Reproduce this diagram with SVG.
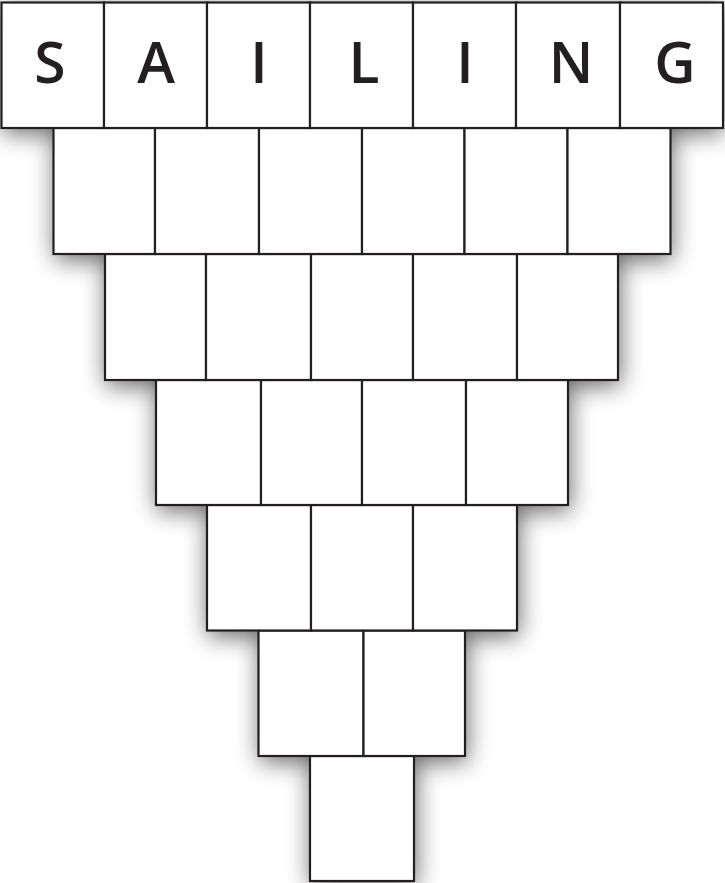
<svg xmlns="http://www.w3.org/2000/svg" width="725" height="883" viewBox="0 0 725 883">
<defs>
<filter id="blur" x="-60" y="-60" width="845" height="1003" filterUnits="userSpaceOnUse">
<feGaussianBlur stdDeviation="12"/>
</filter>
</defs>
<style>
.c{fill:#fff;stroke:#231f20;stroke-width:2.2}
.s{fill:#000}
.t{font-family:"Open Sans","Liberation Sans",sans-serif;font-weight:600;font-size:57px;fill:#231f20;text-anchor:middle}
</style>
<rect width="725" height="883" fill="#fff"/>
<g id="shadows" filter="url(#blur)" opacity="0.6">
<rect class="s" x="3" y="8" width="720" height="125.5"/>
<rect class="s" x="55" y="134" width="617" height="126"/>
<rect class="s" x="106" y="260" width="514" height="126"/>
<rect class="s" x="157" y="386" width="413" height="125"/>
<rect class="s" x="208" y="511" width="311" height="125.5"/>
<rect class="s" x="260" y="636.5" width="207" height="125.5"/>
<rect class="s" x="311" y="762" width="105" height="125"/>
</g>
<g id="row6">
<rect class="c" x="310" y="756" width="104" height="125"/>
</g>
<g id="row5">
<rect class="c" x="258.5" y="630.5" width="105" height="125.5"/>
<rect class="c" x="363.5" y="630.5" width="101.5" height="125.5"/>
</g>
<g id="row4">
<rect class="c" x="207" y="505" width="104" height="125.5"/>
<rect class="c" x="311" y="505" width="102" height="125.5"/>
<rect class="c" x="413" y="505" width="104" height="125.5"/>
</g>
<g id="row3">
<rect class="c" x="156" y="380" width="105" height="125"/>
<rect class="c" x="261" y="380" width="101" height="125"/>
<rect class="c" x="362" y="380" width="104" height="125"/>
<rect class="c" x="466" y="380" width="102" height="125"/>
</g>
<g id="row2">
<rect class="c" x="105" y="254" width="101" height="126"/>
<rect class="c" x="206" y="254" width="105" height="126"/>
<rect class="c" x="311" y="254" width="102" height="126"/>
<rect class="c" x="413" y="254" width="104" height="126"/>
<rect class="c" x="517" y="254" width="101" height="126"/>
</g>
<g id="row1">
<rect class="c" x="53.5" y="128" width="101.5" height="126"/>
<rect class="c" x="155" y="128" width="104" height="126"/>
<rect class="c" x="259" y="128" width="103" height="126"/>
<rect class="c" x="362" y="128" width="102.5" height="126"/>
<rect class="c" x="464.5" y="128" width="103" height="126"/>
<rect class="c" x="567.5" y="128" width="103" height="126"/>
</g>
<g id="row0">
<g id="cS"><rect class="c" x="1.5" y="2.5" width="102.5" height="125.5"/><text class="t" x="50" y="83">S</text></g>
<g id="cA"><rect class="c" x="104" y="2.5" width="103" height="125.5"/><text class="t" x="156" y="83">A</text></g>
<g id="cI1"><rect class="c" x="207" y="2.5" width="103" height="125.5"/><text class="t" x="259" y="83">I</text></g>
<g id="cL"><rect class="c" x="310" y="2.5" width="103" height="125.5"/><text class="t" x="364" y="83">L</text></g>
<g id="cI2"><rect class="c" x="413" y="2.5" width="103" height="125.5"/><text class="t" x="465" y="83">I</text></g>
<g id="cN"><rect class="c" x="516" y="2.5" width="104" height="125.5"/><text class="t" x="571" y="83">N</text></g>
<g id="cG"><rect class="c" x="620" y="2.5" width="103" height="125.5"/><text class="t" x="675" y="83">G</text></g>
</g>
</svg>
